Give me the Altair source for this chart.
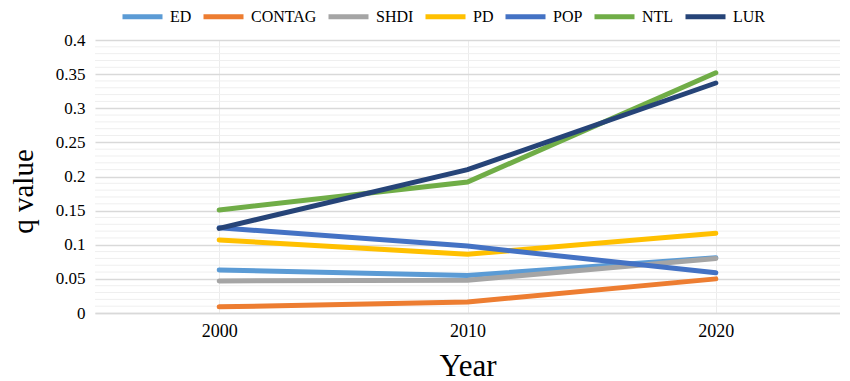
import altair as alt
import pandas as pd

years = ["2000", "2010", "2020"]
series = ["ED", "CONTAG", "SHDI", "PD", "POP", "NTL", "LUR"]
ed = [0.063, 0.055, 0.081]
contag = [0.009, 0.016, 0.050]
shdi = [0.047, 0.048, 0.080]
pd_vals = [0.107, 0.086, 0.117]
pop = [0.125, 0.098, 0.059]
ntl = [0.151, 0.192, 0.352]
lur = [0.124, 0.210, 0.337]
colors = ["#5B9BD5", "#ED7D31", "#A5A5A5", "#FFC000", "#4472C4", "#70AD47", "#264478"]
y_ticks = [0, 0.05, 0.1, 0.15, 0.2, 0.25, 0.3, 0.35, 0.4]
minor_grid = [round(i * 0.01, 2) for i in range(1, 41) if i % 5 != 0]

rows = []
for name, vals in zip(series, [ed, contag, shdi, pd_vals, pop, ntl, lur]):
    for y, v in zip(years, vals):
        rows.append({"Year": y, "q": v, "series": name})
df = pd.DataFrame(rows)
grid_df = pd.DataFrame({"q": minor_grid})

font = "Liberation Serif"
yscale = alt.Scale(domain=[0, 0.4], nice=False, zero=True)
yaxis = alt.Axis(title="q value", values=y_ticks, format="~g", labelFont=font,
                 labelFontSize=17, labelColor="#000", titleFont=font, titleFontSize=29,
                 titleFontWeight="normal", titleColor="#000",
                 titleX=-72, titleY=151, titleAngle=270, titleBaseline="middle",
                 titleAlign="center",
                 ticks=False, domain=False, gridColor="#d9d9d9", gridWidth=1.5,
                 labelPadding=10)

minor = alt.Chart(grid_df).mark_rule(color="#efefef", strokeWidth=1).encode(
    y=alt.Y("q:Q", scale=yscale, axis=yaxis)
)

lines = alt.Chart(df).mark_line(strokeWidth=5, strokeCap="round").encode(
    x=alt.X("Year:N", sort=years,
            scale=alt.Scale(type="point", padding=0.5),
            axis=alt.Axis(title="Year", labelAngle=0, labelFont=font, labelFontSize=18,
                          labelColor="#000", titleFont=font, titleFontSize=31,
                          titleFontWeight="normal", titleColor="#000", titlePadding=11,
                          ticks=False, domainColor="#d9d9d9", domainWidth=1.5,
                          grid=True, gridColor="#ececec", labelPadding=9)),
    y=alt.Y("q:Q", scale=yscale, axis=yaxis),
    color=alt.Color("series:N", sort=series,
                    scale=alt.Scale(domain=series, range=colors),
                    legend=alt.Legend(title=None, orient="none", direction="horizontal",
                                      columns=7, legendX=25, legendY=-46,
                                      symbolType="stroke", symbolSize=1600,
                                      symbolStrokeWidth=5, labelFont=font,
                                      labelFontSize=16, labelColor="#000",
                                      columnPadding=1, labelOffset=5)),
    order=alt.Order("series:N"),
)

chart = alt.layer(minor, lines).properties(
    width=745, height=273,
    padding={"left": 87, "top": 32, "right": 0, "bottom": 68},
    autosize=alt.AutoSizeParams(type="none"),
).configure_view(stroke=None)

chart.save("out.html", embed_options={"renderer": "svg", "actions": False})
